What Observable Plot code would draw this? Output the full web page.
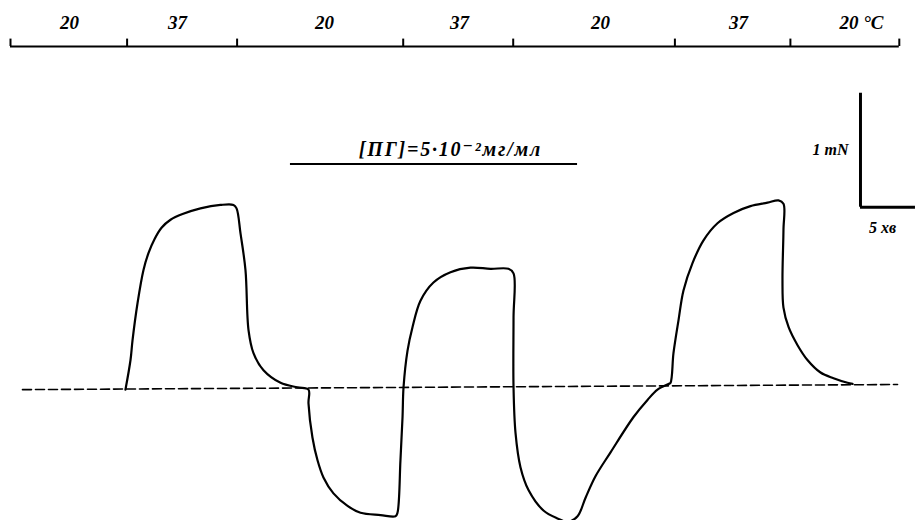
<!DOCTYPE html>
<html><head><meta charset="utf-8">
<script src="https://cdn.jsdelivr.net/npm/d3@7"></script>
<script src="https://cdn.jsdelivr.net/npm/@observablehq/plot@0.6"></script>
<style>body{margin:0;background:#fff} svg{display:block}</style>
</head><body><div id="chart"></div>
<script>
// Time (min) and force (mN) of the recorded trace
const time = [10.45,10.91,11.09,11.55,12.09,12.55,13.09,13.73,14.55,15.64,17.27,19.09,20.27,20.55,20.91,21.36,21.64,22.09,23.0,24.55,26.09,27.09,
  27.09,27.45,27.91,28.45,29.36,30.64,31.82,33.64,35.0,35.18,35.45,35.64,35.73,36.09,36.55,37.27,38.45,40.0,41.82,43.64,45.27,45.73,
  45.73,45.73,45.91,46.36,47.09,48.45,49.73,50.64,51.55,52.27,53.18,54.55,56.64,57.91,58.82,59.82,
  60.0,60.27,60.73,61.18,62.0,63.0,64.27,65.73,67.27,68.82,69.82,70.27,70.27,70.18,70.27,70.73,71.55,72.45,73.64,74.82,76.09,76.55];
const force = [-0.01,0.25,0.42,0.75,1.04,1.19,1.31,1.41,1.48,1.53,1.58,1.61,1.61,1.58,1.36,1.04,0.51,0.31,0.16,0.05,0.01,-0.01,
  -0.13,-0.43,-0.63,-0.78,-0.92,-1.03,-1.09,-1.11,-1.12,-1.09,-0.63,-0.25,0.01,0.33,0.54,0.77,0.93,1.02,1.06,1.05,1.05,1.01,
  0.62,0.01,-0.39,-0.69,-0.89,-1.07,-1.14,-1.17,-1.12,-0.96,-0.77,-0.56,-0.25,-0.10,-0.01,0.04,
  0.05,0.31,0.60,0.86,1.10,1.30,1.45,1.54,1.60,1.63,1.65,1.62,1.39,0.95,0.71,0.54,0.38,0.25,0.14,0.09,0.05,0.04];

// Baseline (dashed)
const baselineTime = [1.09, 80.64];
const baselineForce = [-0.01, 0.035];

// Temperature protocol (top axis)
const tempTickTimes = [0, 10.6, 20.6, 35.7, 45.7, 60.4, 70.9, 80.8];
const tempLabels = ["20", "37", "20", "37", "20", "37", "20 °C"];
const tempLabelTimes = [5.36, 15.18, 28.55, 40.82, 53.64, 66.18, 77.36];

// Drug application period
const drugLabel = "[ПГ]=5·10⁻²мг/мл";
const drugStart = 25.45, drugEnd = 51.55;

// Scale bars
const scaleForce = 1;   // mN
const scaleTime = 5;    // min
const scaleForceLabel = "1 mN";
const scaleTimeLabel = "5 хв";

const trace = time.map((t, i) => ({t, f: force[i]}));
const baseline = baselineTime.map((t, i) => ({t, f: baselineForce[i]}));

const serif = "'Liberation Serif','DejaVu Serif',serif";
const axisLevel = 3.0, labelLevel = 3.21;
const drugLevel = 1.97;
const barT = 77.27, barF = 1.59;

const chart = Plot.plot({
  width: 915, height: 520, margin: 0,
  x: {domain: [0, 82.2727], range: [10, 915], axis: null},
  y: {domain: [-1.1579, 3.4035], range: [520, 0], axis: null},
  style: {background: "#fff", overflow: "hidden"},
  marks: [
    Plot.line(baseline, {x: "t", y: "f", stroke: "#000", strokeWidth: 1.6, strokeDasharray: "9,4"}),
    Plot.line(trace, {x: "t", y: "f", curve: "catmull-rom", stroke: "#000", strokeWidth: 2.2, strokeLinejoin: "round"}),
    // top temperature axis
    Plot.ruleY([axisLevel], {x1: tempTickTimes[0], x2: tempTickTimes[tempTickTimes.length - 1], stroke: "#000", strokeWidth: 2}),
    Plot.ruleX(tempTickTimes, {y1: axisLevel, y2: axisLevel + 0.065, stroke: "#000", strokeWidth: 2}),
    Plot.text(tempLabels, {x: (d, i) => tempLabelTimes[i], y: labelLevel, text: d => d,
      fontFamily: serif, fontStyle: "italic", fontWeight: "bold", fontSize: 19, fill: "#000"}),
    // drug application
    Plot.ruleY([drugLevel], {x1: drugStart, x2: drugEnd, stroke: "#000", strokeWidth: 2}),
    Plot.text([drugLabel], {x: 40.0, y: 2.10, text: d => d, className: "drug-label",
      fontFamily: serif, fontStyle: "italic", fontWeight: "bold", fontSize: 20, fill: "#000"}),
    // scale bars
    Plot.ruleX([barT], {y1: barF, y2: barF + scaleForce, stroke: "#000", strokeWidth: 3}),
    Plot.ruleY([barF], {x1: barT, x2: barT + scaleTime, stroke: "#000", strokeWidth: 3}),
    Plot.text([scaleForceLabel], {x: 76.18, y: 2.09, text: d => d, textAnchor: "end",
      fontFamily: serif, fontStyle: "italic", fontWeight: "bold", fontSize: 16, fill: "#000"}),
    Plot.text([scaleTimeLabel], {x: 79.27, y: 1.41, text: d => d,
      fontFamily: serif, fontStyle: "italic", fontWeight: "bold", fontSize: 16, fill: "#000"})
  ]
});
d3.select(chart).selectAll(".drug-label text").style("letter-spacing", "1.8px");
document.getElementById("chart").append(chart);
</script>
</body></html>
